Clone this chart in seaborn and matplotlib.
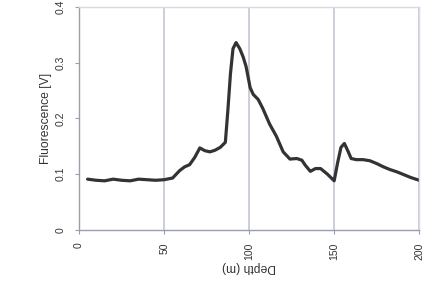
import pandas as pd
import matplotlib
matplotlib.use("Agg")
import matplotlib.pyplot as plt
import seaborn as sns

# depth profile
depth = [5, 10, 15, 20, 25, 30, 35, 40, 45, 50, 55, 59, 62, 65, 68, 71, 74, 77, 80, 83,
         86, 87.5, 89, 90.5, 92.3, 94.5, 96.5, 98.2, 100.6, 102.4, 105.3, 108, 112, 116,
         120, 124, 128, 131, 133, 136, 139, 142, 146, 150, 152, 154, 156, 158, 160, 163,
         167, 171, 175, 179, 183, 187, 191, 195, 200]
fluorescence = [0.091, 0.089, 0.088, 0.091, 0.089, 0.088, 0.091, 0.090, 0.089, 0.090,
                0.093, 0.106, 0.113, 0.117, 0.130, 0.147, 0.142, 0.140, 0.143, 0.148,
                0.157, 0.215, 0.280, 0.325, 0.336, 0.325, 0.310, 0.293, 0.255, 0.243,
                0.234, 0.218, 0.190, 0.168, 0.140, 0.127, 0.128, 0.125, 0.116, 0.105,
                0.110, 0.110, 0.100, 0.088, 0.120, 0.148, 0.155, 0.142, 0.128, 0.126,
                0.126, 0.124, 0.119, 0.113, 0.108, 0.104, 0.099, 0.094, 0.089]

xticks = [0, 50, 100, 150, 200]
yticks = [0, 0.1, 0.2, 0.3, 0.4]
ytick_labels = ["0", "0.1", "0.2", "0.3", "0.4"]

df = pd.DataFrame({"Depth": depth, "Fluorescence": fluorescence})

sns.set_style("white")
plt.rcParams["font.family"] = ["Liberation Sans", "DejaVu Sans"]

fig = plt.figure(figsize=(4.23, 2.87), dpi=100)
ax = fig.add_axes([0.187, 0.199, 0.804, 0.777])

sns.lineplot(data=df, x="Depth", y="Fluorescence", ax=ax, color="#333333",
             linewidth=2.3, solid_capstyle="round", solid_joinstyle="round")

ax.set_xlim(0, 200)
ax.set_ylim(0, 0.4)
ax.set_xticks(xticks)
ax.set_xticklabels([str(t) for t in xticks], rotation=90, fontsize=7.5, color="#333333")
ax.set_yticks(yticks)
ax.set_yticklabels(ytick_labels, rotation=90, va="center", fontsize=7.5, color="#333333")

ax.xaxis.grid(True, color="#c8cad8", linewidth=1.3)
ax.yaxis.grid(False)
ax.tick_params(axis="both", length=3, width=0.8, color="#9a9eb0", pad=6, direction="out")
ax.tick_params(axis="x", bottom=True)
ax.tick_params(axis="y", left=True, pad=7)

for side in ["left", "bottom"]:
    ax.spines[side].set_color("#9a9eb0")
    ax.spines[side].set_linewidth(1.0)
for side in ["top", "right"]:
    ax.spines[side].set_color("#d8dae4")
    ax.spines[side].set_linewidth(1.0)

ax.set_xlabel("Depth (m)", rotation=180, fontsize=8.7, color="#333333", labelpad=1)
ax.set_ylabel("Fluorescence [V]", fontsize=8.7, color="#333333", labelpad=2)

fig.savefig("out.png", dpi=100)
